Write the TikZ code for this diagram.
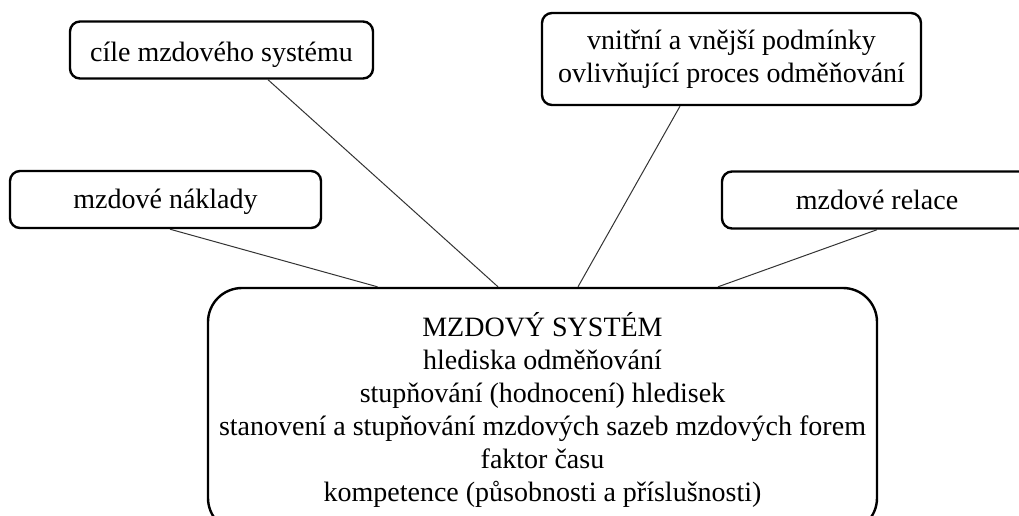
\documentclass[tikz,border=0pt]{standalone}
\usepackage{fontspec}
\setmainfont{Liberation Serif}
\begin{document}
\begin{tikzpicture}[x=1pt,y=-1pt,
  topic/.style={draw=black,line width=2.4pt,rounded corners=10pt,fill=white,
    align=center,inner sep=0pt,font=\fontsize{28}{33}\selectfont},
  oneline/.style={topic,text height=#1,text depth=0pt},
  core/.style={topic,rounded corners=34pt},
  link/.style={draw=black!80,line width=1pt}]
\useasboundingbox (0,0) rectangle (1019,515);
\clip (0,0) rectangle (1019,515);
% peripheral topics
\node[oneline=23pt,minimum width=303pt,minimum height=57pt] (cile) at (221.5,50) {cíle mzdového systému};
\node[topic,minimum width=379pt,minimum height=92pt] (podminky) at (731.5,59)
  {vnitřní a vnější podmínky\\ovlivňující proces odměňování};
\node[oneline=18pt,minimum width=311pt,minimum height=57pt] (naklady) at (165.5,199.5) {mzdové náklady};
\node[oneline=18pt,minimum width=310pt,minimum height=57pt] (relace) at (877,200) {mzdové relace};
% central box
\node[core,minimum width=669pt,minimum height=244pt] (system) at (542.5,410)
  {MZDOVÝ SYSTÉM\\hlediska odměňování\\stupňování (hodnocení) hledisek\\
   stanovení a stupňování mzdových sazeb mzdových forem\\faktor času\\
   kompetence (působnosti a příslušnosti)};
% connectors
\draw[link] ([xshift=4.5pt]naklady.south) -- ([xshift=-165pt]system.north);
\draw[link] ([xshift=46.5pt]cile.south) -- ([xshift=-44.5pt]system.north);
\draw[link] ([xshift=-51.5pt]podminky.south) -- ([xshift=35.5pt]system.north);
\draw[link] (relace.south) -- ([xshift=175.5pt]system.north);
\end{tikzpicture}
\end{document}
